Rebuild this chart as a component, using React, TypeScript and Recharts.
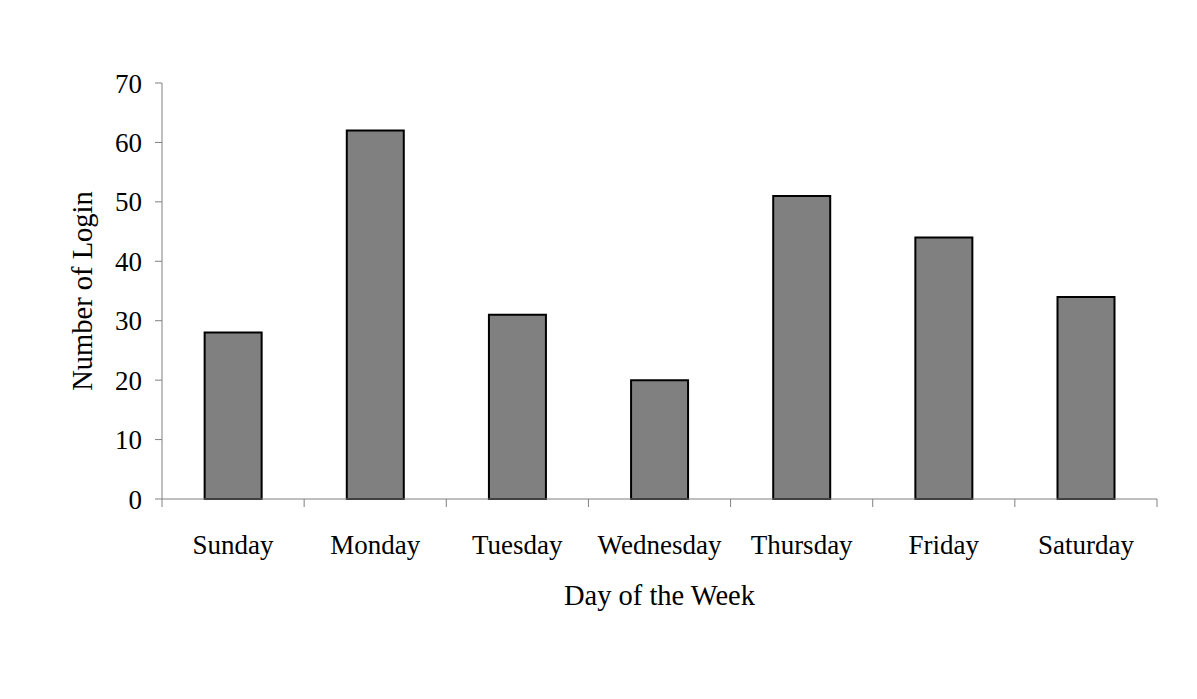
import { BarChart, Bar, XAxis, YAxis } from 'recharts'

const days = ['Sunday', 'Monday', 'Tuesday', 'Wednesday', 'Thursday', 'Friday', 'Saturday']
const logins = [28, 62, 31, 20, 51, 44, 34]
const yTicks = [0, 10, 20, 30, 40, 50, 60, 70]

const data = days.map((day, i) => ({ day, logins: logins[i] }))

const FONT = '"Liberation Serif", "Times New Roman", serif'
const AXIS_GRAY = '#808080'

// etiqueta centrada en la categoría, marca en el borde derecho de la banda
const DayTick = (props: any) => {
  const { x, y, payload, index } = props
  const half = payload?.offset ?? 71
  return (
    <g>
      {index === 0 && (
        <line x1={x - half} x2={x - half} y1={y} y2={y + 8} stroke={AXIS_GRAY} />
      )}
      <line x1={x + half} x2={x + half} y1={y} y2={y + 8} stroke={AXIS_GRAY} />
      <text x={x} y={y + 55} textAnchor="middle" fontSize={27} fill="#000" fontFamily={FONT}>
        {payload.value}
      </text>
    </g>
  )
}

export default function App() {
  return (
    <div style={{ fontFamily: FONT }}>
      <BarChart
        width={1181}
        height={683}
        data={data}
        margin={{ top: 75, right: 32, left: 0, bottom: 72 }}
        barCategoryGap="30%"
      >
        <XAxis
          dataKey="day"
          height={120}
          tickLine={false}
          tickSize={0}
          tickMargin={0}
          stroke={AXIS_GRAY}
          tick={<DayTick />}
          interval={0}
          label={{
            value: 'Day of the Week',
            position: 'insideBottom',
            offset: 14,
            fontSize: 28.5,
            fill: '#000',
            fontFamily: FONT,
          }}
        />
        <YAxis
          width={154}
          domain={[0, 70]}
          ticks={yTicks}
          interval={0}
          tickSize={7}
          tickMargin={13}
          stroke={AXIS_GRAY}
          tick={{ fontSize: 27, fill: '#000', fontFamily: FONT }}
          label={{
            value: 'Number of Login',
            angle: -90,
            position: 'center',
            dx: -3,
            fontSize: 28.5,
            fill: '#000',
            fontFamily: FONT,
          }}
        />
        <Bar
          dataKey="logins"
          fill="#808080"
          stroke="#000"
          strokeWidth={2}
          isAnimationActive={false}
        />
      </BarChart>
    </div>
  )
}
